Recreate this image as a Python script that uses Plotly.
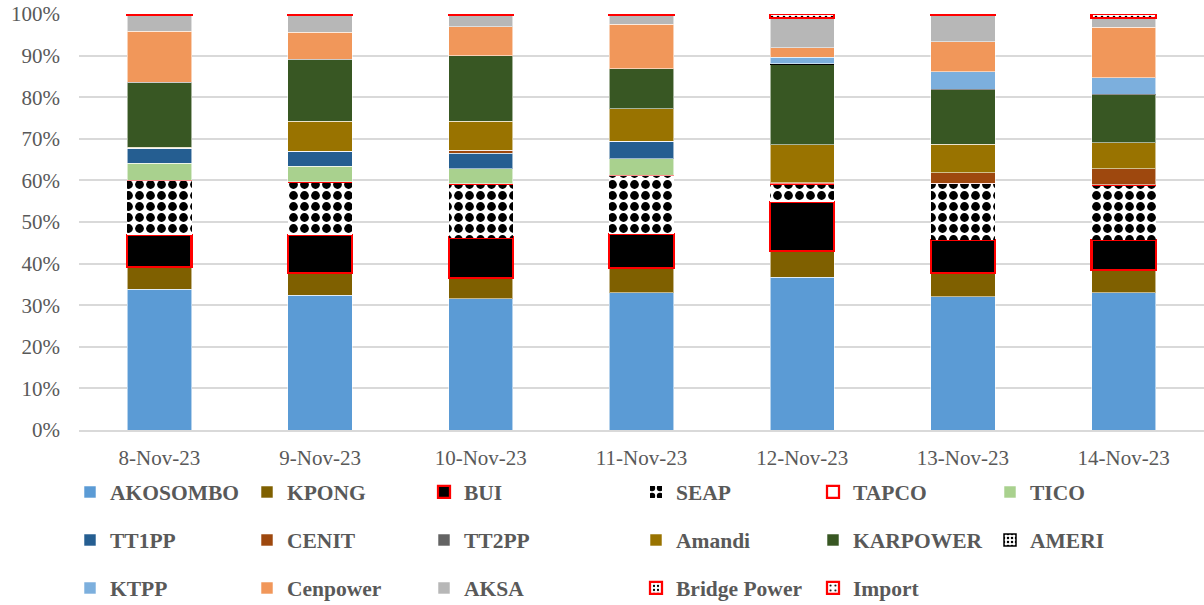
import plotly.graph_objects as go

dates = ["8-Nov-23", "9-Nov-23", "10-Nov-23", "11-Nov-23", "12-Nov-23", "13-Nov-23", "14-Nov-23"]

AKOSOMBO = [33.9, 32.4, 31.5, 33.0, 36.8, 32.0, 33.0]
KPONG = [5.4, 5.4, 5.0, 5.9, 6.3, 5.7, 5.5]
BUI = [7.7, 9.2, 9.7, 8.2, 11.8, 7.9, 7.2]
SEAP = [13.2, 12.7, 12.9, 14.1, 4.5, 13.7, 13.2]
TAPCO = [0, 0, 0, 0, 0, 0, 0]
TICO = [4.0, 3.8, 3.6, 4.0, 0.2, 0, 0]
TT1PP = [3.7, 3.6, 3.8, 4.1, 0, 0, 0]
CENIT = [0, 0, 0.7, 0, 0, 2.5, 3.9]
TT2PP = [0, 0, 0, 0, 0, 0, 0]
Amandi = [0.2, 7.2, 6.9, 7.8, 9.1, 6.8, 6.3]
KARPOWER = [15.7, 14.9, 15.8, 9.7, 19.5, 13.2, 11.6]
AMERI = [0, 0, 0, 0, 0, 0, 0]
KTPP = [0, 0, 0, 0, 1.6, 4.2, 4.0]
Cenpower = [12.2, 6.5, 6.9, 10.6, 2.3, 7.2, 12.1]
AKSA = [4.0, 4.2, 2.9, 2.3, 7.2, 6.5, 2.3]
Bridge_Power = [0, 0, 0, 0, 0, 0, 0]
Import = [0.2, 0.2, 0.2, 0.2, 0.9, 0.2, 0.9]

SEP = dict(color="rgba(255,255,255,0.55)", width=1)
RED = dict(color="#FF0000", width=2.25)

series = [
    ("AKOSOMBO", AKOSOMBO, dict(color="#5B9BD5", line=SEP), "legend"),
    ("KPONG", KPONG, dict(color="#7F6000", line=SEP), "legend"),
    ("BUI", BUI, dict(color="#000000", line=RED), "legend"),
    ("SEAP", SEAP, dict(color="#FFFFFF", line=dict(width=0),
                        pattern=dict(shape=".", fgcolor="#000000", bgcolor="#FFFFFF",
                                     size=11, solidity=0.5, fillmode="replace")), "legend2"),
    ("TAPCO", TAPCO, dict(color="#FFFFFF", line=RED), "legend2"),
    ("TICO", TICO, dict(color="#A9D18E", line=SEP), "legend2"),
    ("TT1PP", TT1PP, dict(color="#255E91", line=SEP), "legend3"),
    ("CENIT", CENIT, dict(color="#9E480E", line=SEP), "legend3"),
    ("TT2PP", TT2PP, dict(color="#636363", line=SEP), "legend3"),
    ("Amandi", Amandi, dict(color="#997300", line=SEP), "legend4"),
    ("KARPOWER", KARPOWER, dict(color="#385723", line=SEP), "legend4"),
    ("AMERI", AMERI, dict(color="#FFFFFF", line=dict(color="#000000", width=1.5),
                          pattern=dict(shape=".", fgcolor="#000000", bgcolor="#FFFFFF",
                                       size=5, solidity=0.3, fillmode="replace")), "legend4"),
    ("KTPP", KTPP, dict(color="#7CAFDD", line=SEP), "legend5"),
    ("Cenpower", Cenpower, dict(color="#F1975A", line=SEP), "legend5"),
    ("AKSA", AKSA, dict(color="#B7B7B7", line=SEP), "legend5"),
    ("Bridge Power", Bridge_Power, dict(color="#FFFFFF", line=RED,
                                        pattern=dict(shape=".", fgcolor="#000000", bgcolor="#FFFFFF",
                                                     size=5, solidity=0.25, fillmode="replace")), "legend6"),
    ("Import", Import, dict(color="#FF0000", line=RED,
                            pattern=dict(shape=".", fgcolor="#000000", bgcolor="#FFFFFF",
                                         size=6, solidity=0.15, fillmode="replace")), "legend6"),
]

fig = go.Figure()
for name, vals, marker, leg in series:
    fig.add_trace(go.Bar(x=dates, y=vals, name=name, marker=marker, legend=leg))

FONT = "Liberation Serif"
W, H = 1204, 605
legend_common = dict(
    orientation="h", xref="container", yref="container", xanchor="left", yanchor="middle",
    entrywidth=132, entrywidthmode="pixels", bgcolor="rgba(0,0,0,0)",
    font=dict(family=FONT, size=21.5, color="#595959", weight="bold"),
    traceorder="normal",
)
rows_y = [492, 540, 588]
left_x, right_x = 70, 636

def leg(x, y):
    return dict(legend_common, x=x / W, y=1 - y / H)

fig.update_layout(
    width=W, height=H,
    barmode="stack", barnorm="percent", bargap=0.6,
    plot_bgcolor="white", paper_bgcolor="white",
    margin=dict(l=79, r=0, t=14, b=174.5, autoexpand=False),
    showlegend=True,
    legend=leg(left_x, rows_y[0]),
    legend2=leg(right_x, rows_y[0]),
    legend3=leg(left_x, rows_y[1]),
    legend4=leg(right_x, rows_y[1]),
    legend5=leg(left_x, rows_y[2]),
    legend6=leg(right_x, rows_y[2]),
    xaxis=dict(
        tickfont=dict(family=FONT, size=21, color="#595959"),
        showgrid=False, showline=True, linecolor="#D9D9D9", linewidth=1.5,
        ticks="", ticklabelstandoff=8, automargin=False,
    ),
    yaxis=dict(
        range=[0, 100], dtick=10, ticksuffix="%",
        tickfont=dict(family=FONT, size=21, color="#595959"),
        showgrid=True, gridcolor="#D9D9D9", gridwidth=1.5,
        zeroline=False, showline=False, ticks="", ticklabelstandoff=18, automargin=False,
    ),
)

fig.write_html("out.html", config={"displayModeBar": False},
               post_script="document.body.style.margin='0';")
